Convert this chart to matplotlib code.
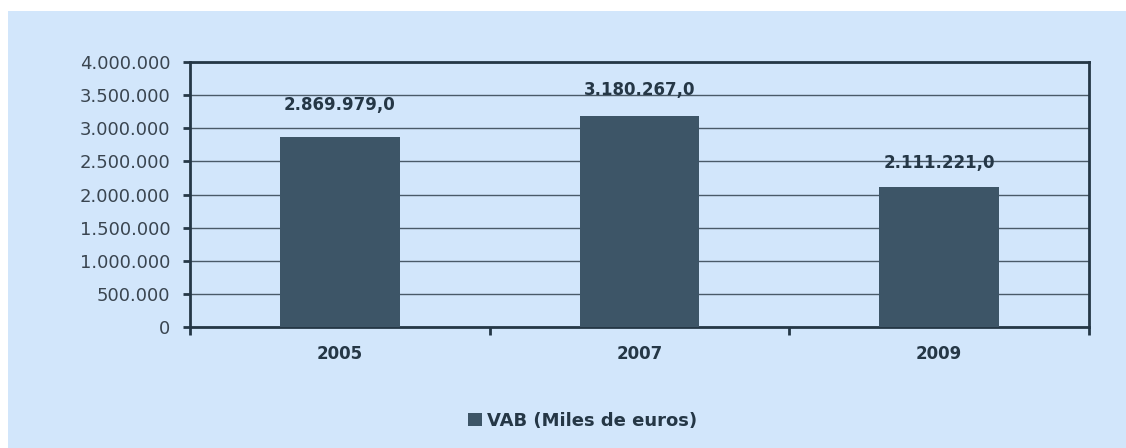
import matplotlib.pyplot as plt
from matplotlib.patches import Rectangle
from matplotlib.ticker import FuncFormatter, FixedLocator

# data
years = ['2005', '2007', '2009']
vab = [2869979.0, 3180267.0, 2111221.0]
label_gaps = [23, 17, 15]  # px between bar top and its value label, as placed in the original

bg = '#D2E6FB'
bar_col = '#3D5567'
dark = '#253746'

plt.rcParams['font.family'] = ['DejaVu Sans']

W, H = 1126, 448
fig = plt.figure(figsize=(W / 100, H / 100), dpi=100, facecolor='white')
# light blue panel (thin white strip left and top like the screenshot)
fig.patches.append(Rectangle((8 / W, 0), 1 - 8 / W, 1 - 11 / H, transform=fig.transFigure,
                             facecolor=bg, edgecolor='none', zorder=-10))

ax = fig.add_axes([190 / W, 1 - 327 / H, 899 / W, 265 / H])
ax.set_facecolor(bg)

x = range(len(years))
bars = ax.bar(x, vab, width=0.4, color=bar_col, zorder=3, label='VAB (Miles de euros)')

ax.set_xlim(-0.5, 2.5)
ax.set_ylim(0, 4000000)
ax.set_yticks(range(0, 4000001, 500000))
ax.yaxis.set_major_formatter(FuncFormatter(lambda v, p: f'{int(v):,}'.replace(',', '.')))
ax.grid(axis='y', color='#4A5A68', linewidth=1, zorder=1)

ax.set_xticks(list(x))
ax.set_xticklabels(years, fontweight='bold', fontsize=12, color=dark)
ax.xaxis.set_minor_locator(FixedLocator([-0.5, 0.5, 1.5, 2.5]))
ax.tick_params(axis='x', which='major', length=0, pad=13)
ax.tick_params(axis='x', which='minor', length=6, width=2, color=dark, direction='out')
ax.tick_params(axis='y', length=5, width=2, color=dark, labelsize=13, labelcolor='#3A4550', pad=9)

for s in ax.spines.values():
    s.set_color(dark)
    s.set_linewidth(2)

for b, v, gap in zip(bars, vab, label_gaps):
    txt = f'{v:,.1f}'.replace(',', 'X').replace('.', ',').replace('X', '.')
    ax.annotate(txt, (b.get_x() + b.get_width() / 2, v), xytext=(0, gap * 0.72),
                textcoords='offset points', ha='center', va='bottom',
                fontsize=12, fontweight='bold', color=dark, zorder=4)

fig.legend(loc='center', bbox_to_anchor=(583 / W, 1 - 421 / H), frameon=False,
           prop={'weight': 'bold', 'size': 13}, handlelength=0.75, handleheight=0.75,
           handletextpad=0.3, labelcolor=dark)

fig.savefig('out.png', dpi=100, facecolor='white')
